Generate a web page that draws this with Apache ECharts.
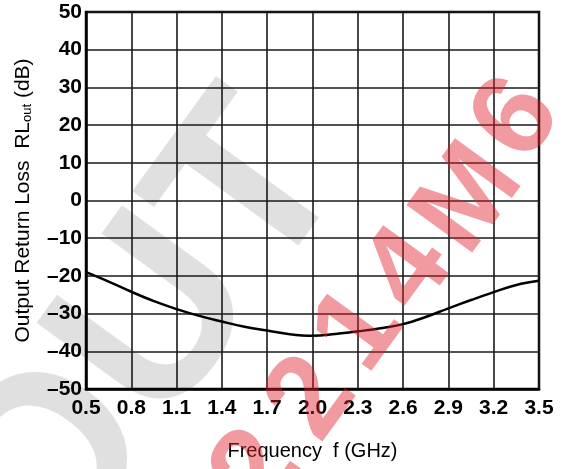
<!DOCTYPE html>
<html>
<head>
<meta charset="utf-8">
<script src="https://cdn.jsdelivr.net/npm/echarts@6/dist/echarts.min.js"></script>
<style>html,body{margin:0;padding:0;background:#fff}#c{width:566px;height:469px}</style>
</head>
<body>
<div id="c"></div>
<script>
// Frequency (GHz) categories, 0.15 GHz steps
var freqs = ['0.5','0.65','0.8','0.95','1.1','1.25','1.4','1.55','1.7','1.85','2.0','2.15','2.3','2.45','2.6','2.75','2.9','3.05','3.2','3.35','3.5'];
// Output return loss RLout (dB)
var rlOut = [-19.0,-21.5,-24.2,-26.7,-28.8,-30.6,-32.1,-33.5,-34.5,-35.5,-35.9,-35.4,-34.7,-33.9,-32.8,-30.9,-28.6,-26.4,-24.3,-22.4,-21.3];
var yMin = -50, yMax = 50, yStep = 10;

var chart = echarts.init(document.getElementById('c'), null, {renderer: 'canvas'});
var F = '"Liberation Sans", Arial, Helvetica, sans-serif';
var ROT = 54 * Math.PI / 180;
// watermark "2214M6": one glyph per element (decoration only)
var wmChars = ['2', '2', '1', '4', 'M', '6'];
var wmPos = [[258, 472], [313, 399], [360, 331], [410, 271], [470, 200], [518, 120]];
var graphics = [
  { type: 'text', x: 148, y: 339, rotation: ROT, z: -10,
    style: { text: 'OUT', font: 'bold 242px ' + F, fill: 'rgba(0,0,0,0.12)', align: 'center', verticalAlign: 'middle' } }
];
wmChars.forEach(function (c, i) {
  graphics.push({ type: 'text', x: wmPos[i][0], y: wmPos[i][1], rotation: ROT, z: 100,
    style: { text: c, font: 'bold 118px ' + F, fill: 'rgba(225,30,45,0.45)', align: 'center', verticalAlign: 'middle' } });
});
chart.setOption({
  animation: false,
  backgroundColor: '#fff',
  graphic: graphics,
  grid: { left: 86, right: 27, top: 12, bottom: 80, show: true, borderColor: '#000', borderWidth: 2.5, backgroundColor: 'transparent' },
  xAxis: {
    type: 'category', data: freqs, boundaryGap: false,
    name: 'Frequency  f (GHz)', nameLocation: 'middle', nameGap: 52,
    nameTextStyle: { fontFamily: F, fontSize: 20, color: '#000' },
    axisLine: { show: true, onZero: false, lineStyle: { color: '#000', width: 2.5 } },
    axisTick: { show: false },
    axisLabel: { interval: 1, margin: 9, fontFamily: F, fontSize: 21, fontWeight: 'bold', color: '#000' },
    splitLine: { show: true, interval: 1, lineStyle: { color: '#1a1a1a', width: 1.6 } }
  },
  yAxis: {
    type: 'value', min: yMin, max: yMax, interval: yStep,
    name: '{a|Output Return Loss  RL}{s|out}{a| (dB)}', nameLocation: 'middle', nameGap: 52, nameRotate: 90,
    nameTextStyle: { rich: {
      a: { fontFamily: F, fontSize: 21, color: '#000' },
      s: { fontFamily: F, fontSize: 13, color: '#000', verticalAlign: 'bottom', padding: [8, 0, 0, 0] }
    } },
    axisLine: { show: true, onZero: false, lineStyle: { color: '#000', width: 2.5 } },
    axisTick: { show: false },
    axisLabel: { margin: 4, fontFamily: F, fontSize: 21, fontWeight: 'bold', color: '#000',
      formatter: function (v) { return String(v).replace('-', '\u2013'); } },
    splitLine: { show: true, lineStyle: { color: '#1a1a1a', width: 1.6 } }
  },
  series: [{
    type: 'line', data: rlOut, smooth: 0.4, showSymbol: false, z: 5,
    lineStyle: { color: '#000', width: 2.5 }
  }]
});
</script>
</body>
</html>
